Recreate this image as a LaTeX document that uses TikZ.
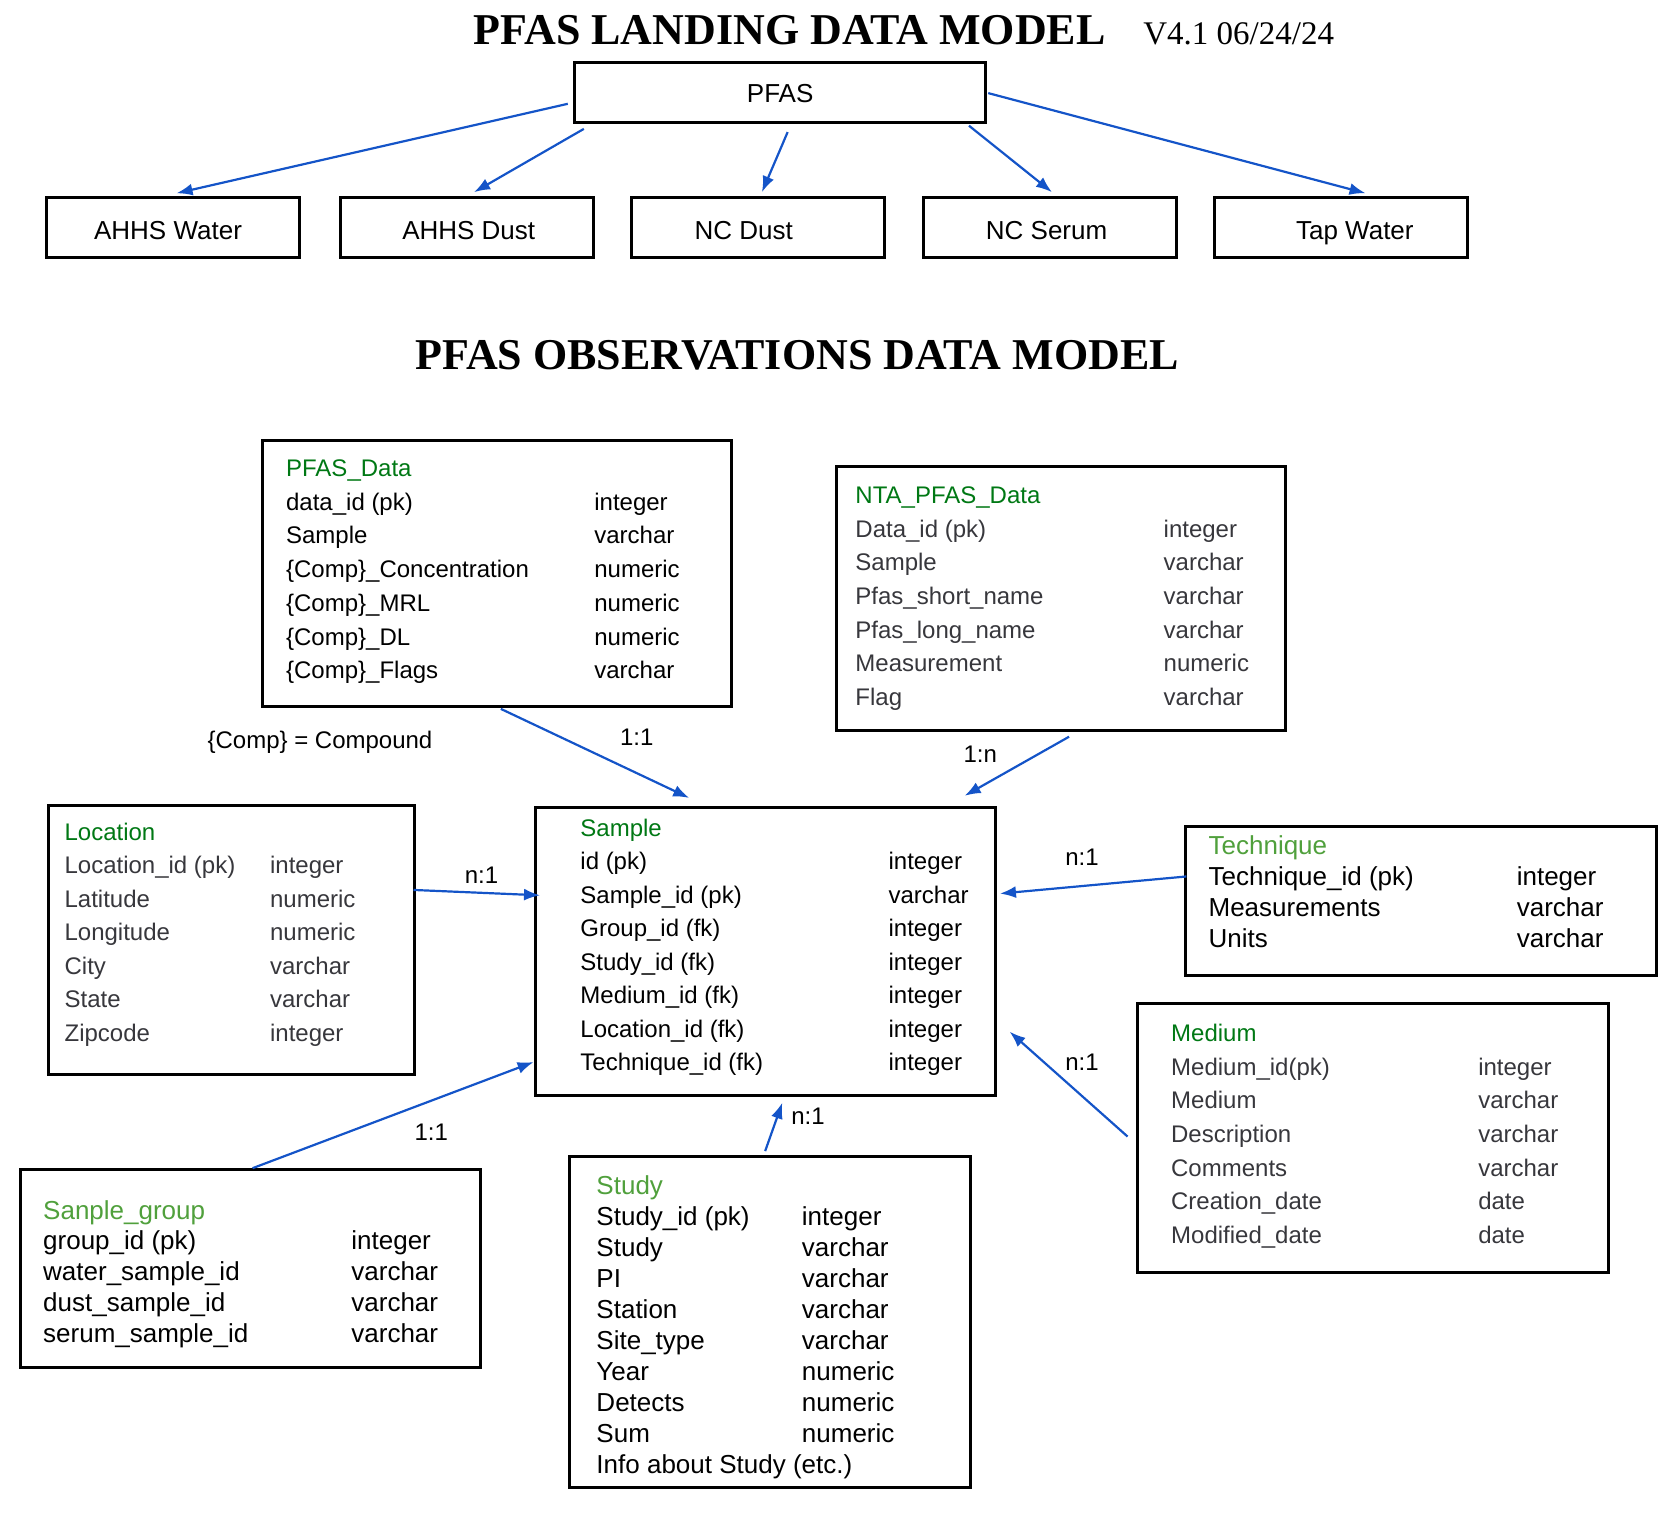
\documentclass[tikz,border=0pt]{standalone}
\usepackage{fontspec}
\setmainfont{Liberation Sans}
\newfontfamily\titlefont{Liberation Serif}
\usepackage{tikz}
\usetikzlibrary{positioning, fit, calc, arrows.meta}
\definecolor{linkblue}{RGB}{20,84,200}
\definecolor{darkgreen}{RGB}{0,120,20}
\definecolor{lightgreen}{RGB}{80,160,60}
\definecolor{fieldgray}{RGB}{55,55,60}

\begin{document}
\begin{tikzpicture}[
	x=0.5351pt, y=-0.5351pt,
	landbox/.style={draw, line width=1.5pt, minimum width=126.5pt, minimum height=30pt},
	landtext/.style={anchor=base, inner sep=0pt, font=\fontsize{13}{15}\selectfont},
	tbl/.style={draw, line width=1.5pt, inner sep=0pt},
	tblname/.style={anchor=mid west, inner sep=0pt, yshift=-1.8pt,
		font=\fontsize{12}{14}\selectfont, text=darkgreen},
	tblname2/.style={tblname, font=\fontsize{13}{15}\selectfont, text=lightgreen},
	field/.style={anchor=mid west, inner sep=0pt, yshift=-1.8pt, font=\fontsize{12}{14}\selectfont},
	bigfield/.style={field, font=\fontsize{13}{15}\selectfont},
	card/.style={inner sep=0pt, font=\fontsize{12}{14}\selectfont},
	link/.style={-{Latex[length=8pt,width=6pt]}, line width=1.1pt, draw=linkblue},
	bigtitle/.style={inner sep=0pt, font=\titlefont\bfseries\fontsize{22}{26}\selectfont}
	]
	\useasboundingbox (0,0) rectangle (1568,1415);
	
	% Titles
	\node[bigtitle] (landtitle) at (738,28) {PFAS LANDING DATA MODEL};
	\node[anchor=base west, inner sep=0pt, font=\titlefont\fontsize{16.5}{20}\selectfont] (version) at (1068,42) {V4.1 06/24/24};
	\node[bigtitle] (obstitle) at (745,332) {PFAS OBSERVATIONS DATA MODEL};
	
	% Landing nodes
	\node[landbox, minimum width=205.5pt] (pfas) at (729,86) {};
	\node[landbox] (ahhswater) at (162,213) {};
	\node[landbox] (ahhsdust)  at (436,213) {};
	\node[landbox] (ncdust)    at (708,213) {};
	\node[landbox] (ncserum)   at (981,213) {};
	\node[landbox] (tapwater)  at (1253,213) {};
	\node[landtext] (pfas-l)      at (729,95.5)  {PFAS};
	\node[landtext] (ahhswater-l) at (157,223.5) {AHHS Water};
	\node[landtext] (ahhsdust-l)  at (438,223.5) {AHHS Dust};
	\node[landtext] (ncdust-l)    at (695,223.5) {NC Dust};
	\node[landtext] (ncserum-l)   at (978,223.5) {NC Serum};
	\node[landtext] (tapwater-l)  at (1266,223.5) {Tap Water};
	
	% Landing arrows
	\draw[link] ($(pfas.west)+(-5,11)$) -- ($(ahhswater.north)+(3,-3)$);
	\draw[link] ($(pfas.south west)+(10,5)$) -- ($(ahhsdust.north)+(7,-4)$);
	\draw[link] ($(pfas.south)+(7,8)$) -- ($(ncdust.north)+(4,-4)$);
	\draw[link] ($(pfas.south east)+(-17,2)$) -- ($(ncserum.north)+(2,-4)$);
	\draw[link] ($(pfas.east)+(1,1)$) -- ($(tapwater.north)+(23,-3)$);
	
	% PFAS_Data
	\node[tbl, fit={(245,412) (684,660)}] (pfasdata) {};
	\node[tblname] (pfasdata-t) at (267,437) {PFAS\_Data};
	\foreach \fld/\typ [count=\i] in {data\_id (pk)/integer, Sample/varchar,
		\{Comp\}\_Concentration/numeric, \{Comp\}\_MRL/numeric,
		\{Comp\}\_DL/numeric, \{Comp\}\_Flags/varchar}{
		\node[field] (pfasdata-f\i) at (267,{437+31.5*\i}) {\fld};
		\node[field] (pfasdata-k\i) at (555,{437+31.5*\i}) {\typ};
	}
	\node[card] (compnote) at (299,694) {\{Comp\} = Compound};
	
	% NTA_PFAS_Data
	\node[tbl, fit={(782,436) (1201,683)}] (ntadata) {};
	\node[tblname] (ntadata-t) at (799,462) {NTA\_PFAS\_Data};
	\foreach \fld/\typ [count=\i] in {Data\_id (pk)/integer, Sample/varchar,
		Pfas\_short\_name/varchar, Pfas\_long\_name/varchar,
		Measurement/numeric, Flag/varchar}{
		\node[field, text=fieldgray] (ntadata-f\i) at (799,{462+31.5*\i}) {\fld};
		\node[field, text=fieldgray] (ntadata-k\i) at (1087,{462+31.5*\i}) {\typ};
	}
	
	% Location
	\node[tbl, fit={(45,753) (387,1004)}] (location) {};
	\node[tblname] (location-t) at (60,777) {Location};
	\foreach \fld/\typ [count=\i] in {Location\_id (pk)/integer, Latitude/numeric,
		Longitude/numeric, City/varchar, State/varchar, Zipcode/integer}{
		\node[field, text=fieldgray] (location-f\i) at (60,{777+31.3*\i}) {\fld};
		\node[field, text=fieldgray] (location-k\i) at (252,{777+31.3*\i}) {\typ};
	}
	
	% Sample
	\node[tbl, fit={(500,755) (930,1024)}] (sample) {};
	\node[tblname] (sample-t) at (542,773) {Sample};
	\foreach \fld/\typ [count=\i] in {id (pk)/integer, Sample\_id (pk)/varchar,
		Group\_id (fk)/integer, Study\_id (fk)/integer, Medium\_id (fk)/integer,
		Location\_id (fk)/integer, Technique\_id (fk)/integer}{
		\node[field] (sample-f\i) at (542,{773+31.3*\i}) {\fld};
		\node[field] (sample-k\i) at (830,{773+31.3*\i}) {\typ};
	}
	
	% Technique
	\node[tbl, fit={(1108,772) (1548,912)}] (technique) {};
	\node[tblname2] (technique-t) at (1129,790) {Technique};
	\foreach \fld/\typ [count=\i] in {Technique\_id (pk)/integer,
		Measurements/varchar, Units/varchar}{
		\node[bigfield] (technique-f\i) at (1129,{790+29*\i}) {\fld};
		\node[bigfield] (technique-k\i) at (1417,{790+29*\i}) {\typ};
	}
	
	% Medium
	\node[tbl, fit={(1063,938) (1503,1189)}] (medium) {};
	\node[tblname] (medium-t) at (1094,965) {Medium};
	\foreach \fld/\typ [count=\i] in {Medium\_id(pk)/integer, Medium/varchar,
		Description/varchar, Comments/varchar, Creation\_date/date,
		Modified\_date/date}{
		\node[field, text=fieldgray] (medium-f\i) at (1094,{965+31.4*\i}) {\fld};
		\node[field, text=fieldgray] (medium-k\i) at (1381,{965+31.4*\i}) {\typ};
	}
	
	% Sanple_group
	\node[tbl, fit={(19,1093) (449,1278)}] (samplegroup) {};
	\node[tblname2] (samplegroup-t) at (40,1131) {Sanple\_group};
	\foreach \fld/\typ [count=\i] in {group\_id (pk)/integer,
		water\_sample\_id/varchar, dust\_sample\_id/varchar,
		serum\_sample\_id/varchar}{
		\node[bigfield] (samplegroup-f\i) at (40,{1131+28.7*\i}) {\fld};
		\node[bigfield] (samplegroup-k\i) at (328,{1131+28.7*\i}) {\typ};
	}
	
	% Study
	\node[tbl, fit={(532,1081) (907,1390)}] (study) {};
	\node[tblname2] (study-t) at (557,1108) {Study};
	\foreach \fld/\typ [count=\i] in {Study\_id (pk)/integer, Study/varchar,
		PI/varchar, Station/varchar, Site\_type/varchar, Year/numeric,
		Detects/numeric, Sum/numeric}{
		\node[bigfield] (study-f\i) at (557,{1108+28.9*\i}) {\fld};
		\node[bigfield] (study-k\i) at (749,{1108+28.9*\i}) {\typ};
	}
	\node[bigfield] (study-f9) at (557,1369) {Info about Study (etc.)};
	
	% Relations
	\draw[link] ($(pfasdata.south)+(3.5,1)$) -- ($(sample.north)+(-71,-8)$);
	\draw[link] ($(ntadata.south)+(7.5,4)$) -- ($(sample.north east)+(-30,-10)$);
	\draw[link] ($(location.north east)+(-2,80)$) -- ($(sample.north west)+(6,83)$);
	\draw[link] ($(technique.west)+(2,-23)$) -- ($(sample.east)+(3,-54.5)$);
	\draw[link] ($(medium.west)+(-8,-1.5)$) -- ($(sample.east)+(12,74.5)$);
	\draw[link] ($(samplegroup.north)+(2,0)$) -- ($(sample.south west)+(0,-33)$);
	\draw[link] ($(study.north)+(-4.5,-4)$) -- ($(sample.south)+(16,5)$);
	
	% Cardinalities
	\node[card] (card-pd) at (595,689) {1:1};
	\node[card] (card-nta) at (916,705) {1:n};
	\node[card] (card-loc) at (450,818) {n:1};
	\node[card] (card-tech) at (1011,801) {n:1};
	\node[card] (card-med) at (1011,993) {n:1};
	\node[card] (card-grp) at (403,1058) {1:1};
	\node[card] (card-study) at (755,1043) {n:1};
	
\end{tikzpicture}
\end{document}
